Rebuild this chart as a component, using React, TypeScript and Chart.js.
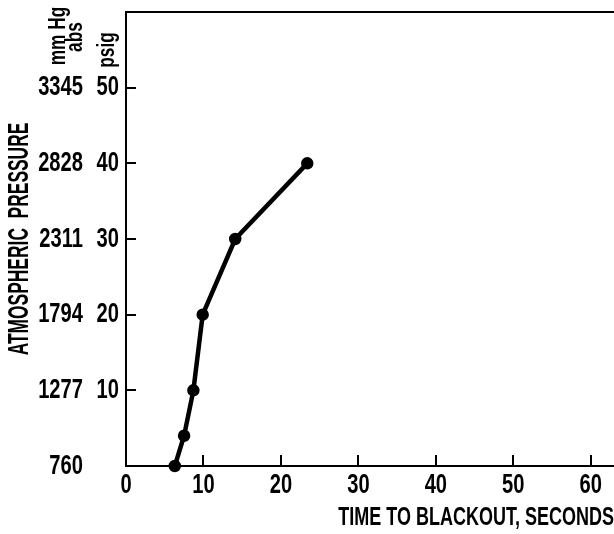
import React, { useEffect, useRef } from "react";
import { Chart, registerables } from "chart.js";

Chart.register(...registerables);

// Data
const timeToBlackoutSec = [6.3, 7.5, 8.7, 9.9, 14.1, 23.4];
const pressurePsig = [0, 4, 10, 20, 30, 40];

const xTickValues = [0, 10, 20, 30, 40, 50, 60];
const psigTickValues = [10, 20, 30, 40, 50];
const mmHgTickValues = [760, 1277, 1794, 2311, 2828, 3345];

const X_TITLE = "TIME TO BLACKOUT, SECONDS";
const Y_TITLE = "ATMOSPHERIC  PRESSURE";

const FAMILY = '"Liberation Sans", Arial, sans-serif';

const X_MAX = 63;
const Y_MAX = 60;

// Horizontal condensing of the typeface (the original lettering is a narrow gothic)
const condenseFor = (text: string) => (text === Y_TITLE ? 0.58 : 0.72);

export default function App() {
  const ref = useRef<HTMLCanvasElement>(null);
  useEffect(() => {
    const canvas = ref.current;
    if (!canvas) return;
    const c2d = canvas.getContext("2d") as any;
    const origFill = c2d.fillText.bind(c2d);
    c2d.fillText = (text: string, x: number, y: number) => {
      c2d.save();
      c2d.translate(x, y);
      c2d.scale(condenseFor(String(text)), 1);
      origFill(text, 0, 0);
      c2d.restore();
    };

    const tickFont = { family: FAMILY, weight: "bold" as any, size: 28 };

    // rotated unit headers above the two y tick columns
    const headerPlugin = {
      id: "headers",
      afterDraw(chart: any) {
        const ctx = chart.ctx as CanvasRenderingContext2D;
        const psig = chart.scales.y;
        const mm = chart.scales.y2;
        ctx.save();
        ctx.fillStyle = "#000";
        ctx.textAlign = "center";
        ctx.textBaseline = "middle";
        ctx.font = `bold 24px ${FAMILY}`;
        const draw = (t: string, x: number, y: number) => {
          ctx.save();
          ctx.translate(x, y);
          ctx.rotate(-Math.PI / 2);
          ctx.fillText(t, 0, 0);
          ctx.restore();
        };
        draw("mm Hg", mm.right - 30, 36);
        draw("abs", mm.right - 13, 37);
        draw("psig", psig.right - 19, 50);
        ctx.restore();
      },
    };

    const chart = new Chart(canvas, {
      type: "scatter",
      data: {
        datasets: [
          {
            data: timeToBlackoutSec.map((t, i) => ({ x: t, y: pressurePsig[i] })),
            showLine: true,
            borderColor: "#000",
            backgroundColor: "#000",
            borderWidth: 4.5,
            pointRadius: 4,
            pointBackgroundColor: "#000",
            pointBorderColor: "#000",
            clip: false as any,
            xAxisID: "x",
            yAxisID: "y",
          },
        ],
      },
      options: {
        animation: false,
        responsive: false,
        layout: { padding: 0, autoPadding: false },
        plugins: { legend: { display: false }, tooltip: { enabled: false } },
        scales: {
          x: {
            type: "linear",
            position: "bottom",
            min: 0,
            max: X_MAX,
            afterBuildTicks: (s: any) => {
              s.ticks = xTickValues.map((v) => ({ value: v }));
            },
            afterFit: (s: any) => {
              s.height = 68;
              s.paddingLeft = 0;
              s.paddingRight = 0;
            },
            grid: { display: false, drawTicks: false },
            border: { display: true, color: "#000", width: 2 },
            ticks: { color: "#000", padding: 2, font: tickFont, callback: (v: any) => String(v) },
            title: {
              display: true,
              text: X_TITLE,
              align: "end",
              color: "#000",
              padding: { top: 0, bottom: 1 },
              font: { family: FAMILY, weight: "bold" as any, size: 25 },
            },
          },
          // inward tick marks of the time axis (an unlabeled axis placed just above the bottom)
          xTicks: {
            type: "linear",
            axis: "x",
            position: { y: (Y_MAX * 11) / 454 },
            min: 0,
            max: X_MAX,
            afterBuildTicks: (s: any) => {
              s.ticks = xTickValues.filter((v) => v > 0).map((v) => ({ value: v }));
            },
            grid: { display: true, drawOnChartArea: false, drawTicks: true, tickLength: 11, color: "#000", lineWidth: 2 },
            border: { display: false },
            ticks: { display: false },
          } as any,
          x2: {
            type: "linear",
            position: "top",
            min: 0,
            max: X_MAX,
            afterFit: (s: any) => {
              s.height = 12;
              s.paddingLeft = 0;
              s.paddingRight = 0;
            },
            grid: { display: false, drawTicks: false },
            border: { display: true, color: "#000", width: 2 },
            ticks: { display: false },
          },
          y: {
            type: "linear",
            position: "left",
            weight: 1,
            min: 0,
            max: Y_MAX,
            afterBuildTicks: (s: any) => {
              s.ticks = psigTickValues.map((v) => ({ value: v }));
            },
            afterFit: (s: any) => {
              s.width = 38;
              s.paddingTop = 0;
              s.paddingBottom = 0;
            },
            grid: { display: false, drawTicks: false },
            border: { display: true, color: "#000", width: 2 },
            ticks: { color: "#000", padding: 7, font: tickFont, callback: (v: any) => String(v) },
          },
          // inward tick marks of the pressure axis (an unlabeled axis placed just right of the left edge)
          yTicks: {
            type: "linear",
            axis: "y",
            position: { x: (X_MAX * 10) / 488 },
            min: 0,
            max: Y_MAX,
            afterBuildTicks: (s: any) => {
              s.ticks = psigTickValues.map((v) => ({ value: v }));
            },
            grid: { display: true, drawOnChartArea: false, drawTicks: true, tickLength: 10, color: "#000", lineWidth: 2 },
            border: { display: false },
            ticks: { display: false },
          } as any,
          y2: {
            type: "linear",
            position: "left",
            weight: 2,
            min: 760,
            max: 3862,
            afterBuildTicks: (s: any) => {
              s.ticks = mmHgTickValues.map((v) => ({ value: v }));
            },
            afterFit: (s: any) => {
              s.width = 88;
              s.paddingTop = 0;
              s.paddingBottom = 0;
            },
            grid: { display: false, drawTicks: false },
            border: { display: false },
            ticks: { color: "#000", padding: 5, font: tickFont, callback: (v: any) => String(v) },
            title: {
              display: true,
              text: Y_TITLE,
              color: "#000",
              padding: { top: 2, bottom: 0 },
              font: { family: FAMILY, weight: "bold" as any, size: 30 },
            },
          },
        },
      },
      plugins: [headerPlugin],
    });
    return () => {
      chart.destroy();
      c2d.fillText = origFill;
    };
  }, []);
  return (
    <div style={{ position: "fixed", left: 0, top: 0, width: 614, height: 534, background: "#fff" }}>
      <canvas ref={ref} width={614} height={534} style={{ display: "block" }} />
    </div>
  );
}
